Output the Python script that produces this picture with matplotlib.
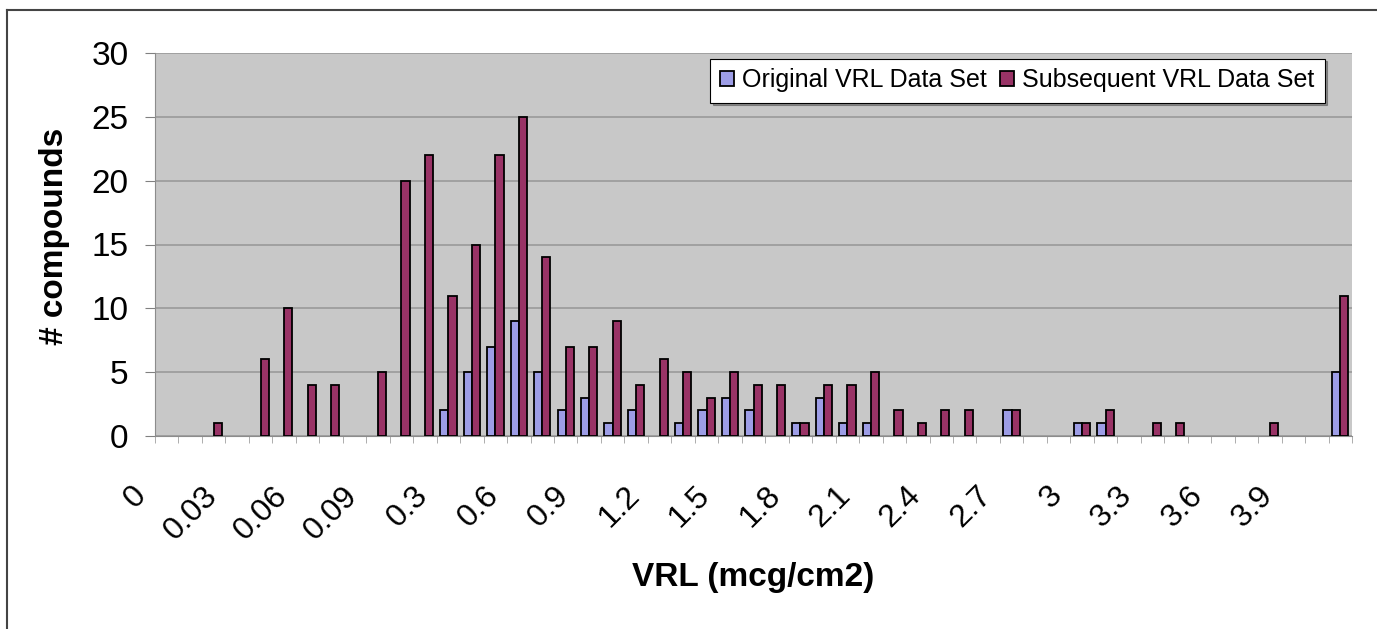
import matplotlib
matplotlib.use('Agg')
import numpy as np
import matplotlib.pyplot as plt
import matplotlib.transforms as mtransforms
from matplotlib.lines import Line2D
from matplotlib.patches import Patch

categories = ['0', '0.01', '0.02', '0.03', '0.04', '0.05', '0.06', '0.07', '0.08', '0.09',
              '0.1', '0.2', '0.3', '0.4', '0.5', '0.6', '0.7', '0.8', '0.9', '1',
              '1.1', '1.2', '1.3', '1.4', '1.5', '1.6', '1.7', '1.8', '1.9', '2',
              '2.1', '2.2', '2.3', '2.4', '2.5', '2.6', '2.7', '2.8', '2.9', '3',
              '3.1', '3.2', '3.3', '3.4', '3.5', '3.6', '3.7', '3.8', '3.9', '4',
              '>4']

original = [0, 0, 0, 0, 0, 0, 0, 0, 0, 0,
            0, 0, 2, 5, 7, 9, 5, 2, 3, 1,
            2, 0, 1, 2, 3, 2, 0, 1, 3, 1,
            1, 0, 0, 0, 0, 0, 2, 0, 0, 1,
            1, 0, 0, 0, 0, 0, 0, 0, 0, 0,
            5]

subsequent = [0, 0, 1, 0, 6, 10, 4, 4, 0, 5,
              20, 22, 11, 15, 22, 25, 14, 7, 7, 9,
              4, 6, 5, 3, 5, 4, 4, 1, 4, 4,
              5, 2, 1, 2, 2, 0, 2, 0, 0, 1,
              2, 0, 1, 1, 0, 0, 0, 1, 0, 0,
              11]

labels = ['Original VRL Data Set', 'Subsequent VRL Data Set']
colors = ['#9D9DE6', '#993366']

plt.rcParams['font.family'] = ['Liberation Sans', 'DejaVu Sans']

W, H = 1377, 629
fig = plt.figure(figsize=(W / 100, H / 100), dpi=100)
ax = fig.add_axes([155 / W, 1 - 436 / H, (1352 - 155) / W, (436 - 53) / H])
ax.set_facecolor('#C8C8C8')

x = np.arange(len(categories))
w = 0.35
for k, vals in enumerate((original, subsequent)):
    bars = ax.bar(x + (k - 0.5) * w, vals, w, color=colors[k], edgecolor='black',
                  linewidth=1.3, zorder=3)
    # empty categories: no outline along the axis
    for b, v in zip(bars, vals):
        if v == 0:
            b.set_visible(False)

ax.set_xlim(-0.5, len(categories) - 0.5)
ax.set_ylim(0, 30)
ax.set_yticks(range(0, 31, 5))
ax.tick_params(axis='y', labelsize=24, length=7, color='#808080', pad=12)
ax.yaxis.grid(True, color='#9A9A9A', linewidth=1.2, zorder=0)
ax.set_axisbelow(True)

ax.set_xticks(x[::3])
ax.set_xticklabels(categories[::3], rotation=45, ha='right', va='top', fontsize=23)
ax.set_xticks(np.arange(len(categories) + 1) - 0.5, minor=True)
ax.tick_params(axis='x', which='major', length=0, pad=32)
ax.tick_params(axis='x', which='minor', length=5, color='#A0A0A0')
shift = mtransforms.ScaledTranslation(-0.14, 0, fig.dpi_scale_trans)
for lbl in ax.get_xticklabels():
    lbl.set_transform(lbl.get_transform() + shift)

for side in ['left', 'bottom']:
    ax.spines[side].set_color('#8C8C8C')
ax.spines['top'].set_visible(False)
ax.spines['right'].set_visible(False)

ax.set_ylabel('# compounds', fontsize=24, fontweight='bold')
ax.yaxis.set_label_coords(-0.071, 0.52)
ax.set_xlabel('VRL (mcg/cm2)', fontsize=24, fontweight='bold')
ax.xaxis.set_label_coords(0.5, -0.33)

handles = [Patch(facecolor=c, edgecolor='black', linewidth=1.3) for c in colors]
leg = ax.legend(handles, labels, loc='upper right', bbox_to_anchor=(1337 / W, 1 - 46 / H),
                bbox_transform=fig.transFigure, ncol=2, fontsize=18,
                fancybox=False, shadow=True, framealpha=1, edgecolor='black',
                handlelength=0.55, handleheight=0.55, handletextpad=0.35,
                columnspacing=0.5, borderpad=0.4)
leg.get_frame().set_linewidth(0.8)

fig.add_artist(Line2D([7 / W, 7 / W], [0, 1 - 10 / H], transform=fig.transFigure,
                      color='#444444', linewidth=1.5))
fig.add_artist(Line2D([7 / W, 1], [1 - 10 / H, 1 - 10 / H], transform=fig.transFigure,
                      color='#444444', linewidth=1.5))

fig.savefig('out.png', dpi=100)
